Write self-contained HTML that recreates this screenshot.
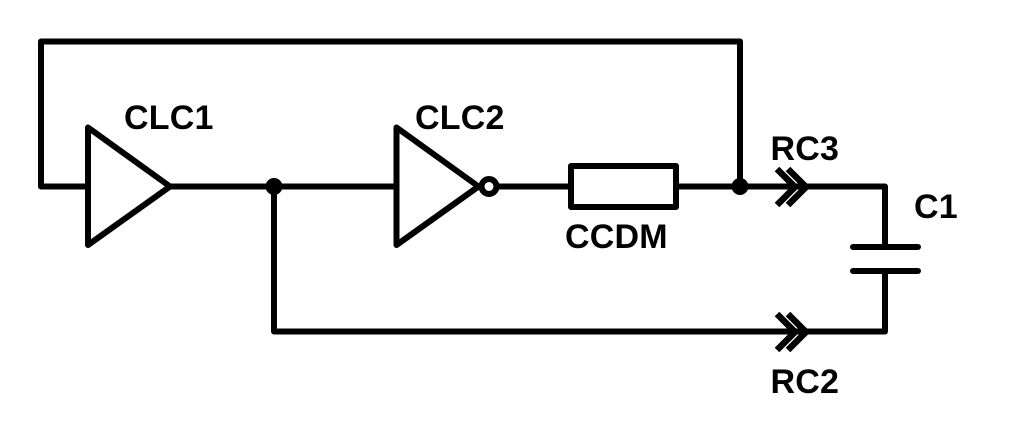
<!DOCTYPE html>
<html>
<head>
<meta charset="utf-8">
<style>
html,body{margin:0;padding:0;background:#fff}
svg{display:block}
text{font-family:"Liberation Sans",Arial,sans-serif;font-weight:bold;font-size:34px;fill:#000;letter-spacing:0.2px}
</style>
</head>
<body>
<svg width="1036" height="428" viewBox="0 0 1036 428" xmlns="http://www.w3.org/2000/svg">
<g fill="none" stroke="#000" stroke-width="6" stroke-linejoin="round" stroke-linecap="round">
  <path d="M88 186.5H41V41.5H740V186.5"/>
  <path d="M88 127.5V245L170 186.5Z"/>
  <path d="M170 186.5H396"/>
  <path d="M396.5 127.5V245L478.500 186.5Z"/>
  <circle cx="489" cy="186.5" r="7.5"/>
  <path d="M497 186.5H571"/>
  <rect x="571" y="166" width="105" height="41"/>
  <path d="M676 186.5H885V247"/>
  <path d="M274 186.5V331.5H885V271"/>
  <path d="M853 247H918M853 271H918"/>
</g>
<circle cx="274" cy="186.5" r="8.5" fill="#000"/>
<circle cx="740" cy="186.5" r="8.5" fill="#000"/>
<g fill="none" stroke="#000" stroke-width="6.5">
  <path d="M777 169L795 187L777 205"/>
  <path d="M788 169L806 187L788 205"/>
  <path d="M777 314L795 332L777 350"/>
  <path d="M788 314L806 332L788 350"/>
</g>
<text x="124" y="129">CLC1</text>
<text x="415" y="129">CLC2</text>
<text x="565" y="248">CCDM</text>
<text x="770.500" y="160">RC3</text>
<text x="914" y="218">C1</text>
<text x="770.500" y="393">RC2</text>
</svg>
</body>
</html>
